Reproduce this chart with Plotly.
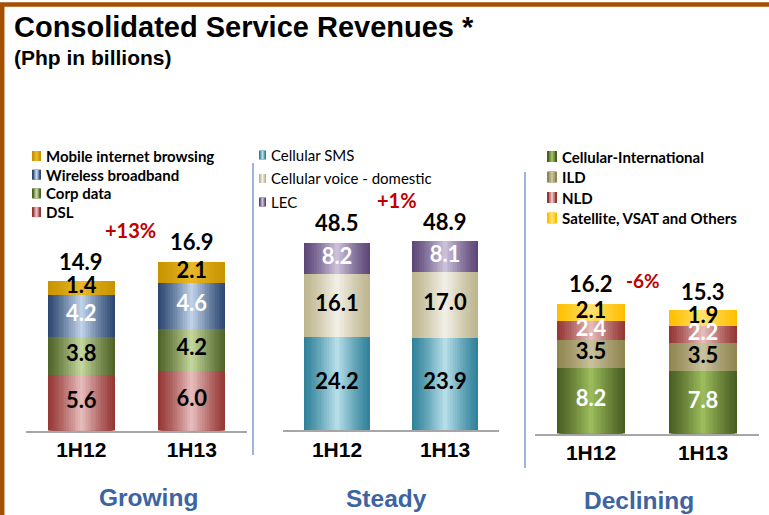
import plotly.graph_objects as go

W, H = 769, 515

categories = ["1H12", "1H13"]

# Growing
grow_names = ["DSL", "Corp data", "Wireless broadband", "Mobile internet browsing"]
grow_dsl = [5.6, 6.0]
grow_corp = [3.8, 4.2]
grow_wireless = [4.2, 4.6]
grow_mobile = [1.4, 2.1]
grow_totals = [14.9, 16.9]
grow_change = "+13%"

# Steady
steady_names = ["Cellular SMS", "Cellular voice - domestic", "LEC"]
steady_sms = [24.2, 23.9]
steady_voice = [16.1, 17.0]
steady_lec = [8.2, 8.1]
steady_totals = [48.5, 48.9]
steady_change = "+1%"

# Declining
decl_names = ["Cellular-International", "ILD", "NLD", "Satellite, VSAT and Others"]
decl_intl = [8.2, 7.8]
decl_ild = [3.5, 3.5]
decl_nld = [2.4, 2.2]
decl_sat = [2.1, 1.9]
decl_totals = [16.2, 15.3]
decl_change = "-6%"

group_titles = ["Growing", "Steady", "Declining"]


def px_x(p):
    return p / W


def px_y(p):
    return 1 - p / H


def mix(c1, c2, t):
    a = [int(c1[i:i + 2], 16) for i in (1, 3, 5)]
    b = [int(c2[i:i + 2], 16) for i in (1, 3, 5)]
    return "rgb(%d,%d,%d)" % tuple(round(a[i] + (b[i] - a[i]) * t) for i in range(3))


# (name, values, edge colour, centre colour, label colour), bottom -> top
panels = [
    dict(series=[(grow_names[0], grow_dsl, "#943634", "#E8BFBE", "black"),
                 (grow_names[1], grow_corp, "#4F6228", "#C6D99E", "black"),
                 (grow_names[2], grow_wireless, "#2C4770", "#C4D5EC", "white"),
                 (grow_names[3], grow_mobile, "#C89400", "#E9B828", "black")],
         totals=grow_totals, change=grow_change,
         x0=26, x1=247, base=430.5, scale=10.0,
         change_pos=(130, 230, 20), title_pos=(148, 497),
         leg=dict(x=32, y=156, dy=18.7, w=9, h=10, bold=True, top_first=True)),
    dict(series=[(steady_names[0], steady_sms, "#2F8199", "#B9E0EA", "black"),
                 (steady_names[1], steady_voice, "#BDB58E", "#F3F1E8", "black"),
                 (steady_names[2], steady_lec, "#5C4677", "#CDC2DB", "white")],
         totals=steady_totals, change=steady_change,
         x0=283, x1=499, base=430, scale=3.86,
         change_pos=(397, 200, 20), title_pos=(386, 498),
         leg=dict(x=259, y=155, dy=23.5, w=7, h=9, bold=False, top_first=False)),
    dict(series=[(decl_names[0], decl_intl, "#4A5E24", "#9DBE5C", "white"),
                 (decl_names[1], decl_ild, "#8F8550", "#C9C29E", "black"),
                 (decl_names[2], decl_nld, "#943634", "#E8BFBE", "white"),
                 (decl_names[3], decl_sat, "#FFBF00", "#FFE370", "black")],
         totals=decl_totals, change=decl_change,
         x0=535, x1=759, base=433.5, scale=8.0,
         change_pos=(643, 280, 19), title_pos=(639, 500),
         leg=dict(x=547, y=156.5, dy=20.5, w=10, h=11, bold=True, top_first=False)),
]

BAR_W = 0.61
LAYERS = 20
TOP = 140

fig = go.Figure()
annotations = []
shapes = []
layout_axes = {}

for i, p in enumerate(panels, start=1):
    xa = "x" if i == 1 else f"x{i}"
    ya = "y" if i == 1 else f"y{i}"
    cum = [0.0, 0.0]
    for name, vals, edge, center, lab in p["series"]:
        # fake horizontal gradient: narrower, lighter bars on top of each other
        for k in range(LAYERS):
            fig.add_trace(go.Bar(
                x=[0, 1], y=vals, base=list(cum),
                width=BAR_W * (1 - k / LAYERS),
                marker=dict(color=mix(edge, center, ((k + 0.5) / LAYERS) ** 1.2),
                            line=dict(width=0)),
                xaxis=xa, yaxis=ya, showlegend=False, hoverinfo="skip",
            ))
        fig.add_trace(go.Scatter(
            x=[0, 1], y=[c + v / 2 for c, v in zip(cum, vals)],
            mode="text", text=[f"{v:.1f}" for v in vals],
            textfont=dict(family="Lato", size=22, color=lab, weight="bold"),
            xaxis=xa, yaxis=ya, showlegend=False, hoverinfo="skip",
        ))
        cum = [c + v for c, v in zip(cum, vals)]

    for j, t in enumerate(p["totals"]):
        annotations.append(dict(
            x=j, y=t, xref=xa, yref=ya, yshift=20, showarrow=False,
            text=f"<b>{t:.1f}</b>", font=dict(family="Lato", size=22, color="black"),
            xanchor="center", yanchor="middle",
        ))

    cx, cy, cs = p["change_pos"]
    annotations.append(dict(
        x=px_x(cx), y=px_y(cy), xref="paper", yref="paper", showarrow=False,
        xanchor="center", yanchor="middle",
        text=f"<b>{p['change']}</b>", font=dict(family="Lato", size=cs, color="#C00000"),
    ))
    tx, ty = p["title_pos"]
    annotations.append(dict(
        x=px_x(tx), y=px_y(ty), xref="paper", yref="paper", showarrow=False,
        xanchor="center", yanchor="middle",
        text=f"<b>{group_titles[i - 1]}</b>",
        font=dict(family="Liberation Sans", size=24.5, color="#3D64A1"),
    ))

    # hand-made legend
    lg = p["leg"]
    items = list(reversed(p["series"])) if lg["top_first"] else p["series"]
    for n, (name, vals, edge, center, lab) in enumerate(items):
        yc = lg["y"] + n * lg["dy"]
        mid = lg["x"] + lg["w"] / 2
        for frac, t in ((1.0, 0.0), (0.6, 0.5), (0.25, 1.0)):
            half = lg["w"] * frac / 2
            shapes.append(dict(
                type="rect", xref="paper", yref="paper",
                x0=px_x(mid - half), x1=px_x(mid + half),
                y0=px_y(yc + lg["h"] / 2), y1=px_y(yc - lg["h"] / 2),
                fillcolor=mix(edge, center, t), line=dict(width=0),
            ))
        annotations.append(dict(
            x=px_x(lg["x"] + lg["w"] + 3), y=px_y(yc), xref="paper", yref="paper",
            xanchor="left", yanchor="middle", showarrow=False,
            text=f"<b>{name}</b>" if lg["bold"] else name,
            font=dict(family="Lato", size=15, color="black"),
        ))

    key = "" if i == 1 else str(i)
    layout_axes["xaxis" + key] = dict(
        domain=[px_x(p["x0"]), px_x(p["x1"])], range=[-0.5, 1.5],
        tickvals=[0, 1], ticktext=[f"<b>{c}</b>" for c in categories],
        tickfont=dict(family="Liberation Sans", size=21, color="black"),
        showline=True, linecolor="#A6A6A6", linewidth=1.5,
        showgrid=False, zeroline=False, ticks="", anchor=ya, fixedrange=True,
    )
    layout_axes["yaxis" + key] = dict(
        domain=[px_y(p["base"]), px_y(TOP)],
        range=[0, (p["base"] - TOP) / p["scale"]],
        visible=False, anchor=xa, fixedrange=True,
    )

# title
annotations.append(dict(
    x=px_x(12), y=px_y(27), xref="paper", yref="paper",
    xanchor="left", yanchor="middle", showarrow=False,
    text="<b>Consolidated Service Revenues *</b>",
    font=dict(family="Liberation Sans", size=29, color="black"),
))
annotations.append(dict(
    x=px_x(12), y=px_y(57), xref="paper", yref="paper",
    xanchor="left", yanchor="middle", showarrow=False,
    text="<b>(Php in billions)</b>",
    font=dict(family="Liberation Sans", size=21, color="black"),
))

# blue separators between the groups
for sx, sy0, sy1 in ((253, 163, 455), (525, 172, 468)):
    shapes.append(dict(type="line", xref="paper", yref="paper",
                       x0=px_x(sx), x1=px_x(sx), y0=px_y(sy0), y1=px_y(sy1),
                       line=dict(color="#7C9CD2", width=1.5)))

# brown slide frame (top + left)
shapes.append(dict(type="rect", xref="paper", yref="paper",
                   x0=px_x(2.2), x1=1.2, y0=-0.2, y1=px_y(4.5),
                   line=dict(color="#A55000", width=4.5), fillcolor="rgba(0,0,0,0)"))

fig.update_layout(
    width=W, height=H, autosize=False,
    margin=dict(l=0, r=0, t=0, b=0),
    paper_bgcolor="white", plot_bgcolor="white",
    barmode="overlay", bargap=0,
    showlegend=False,
    annotations=annotations, shapes=shapes,
    **layout_axes,
)

fig.write_html("out.html", config={"displayModeBar": False},
               post_script="document.body.style.margin = '0';")
